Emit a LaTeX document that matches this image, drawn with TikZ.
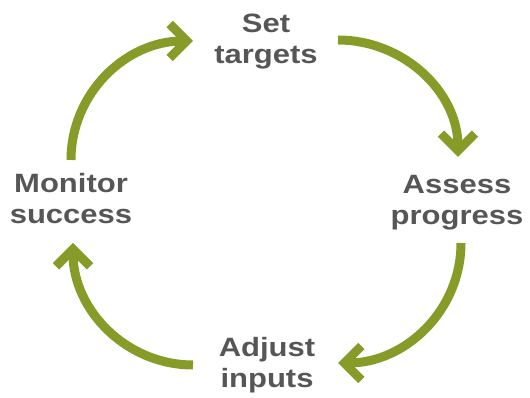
\documentclass[tikz,border=0pt]{standalone}
\usepackage{fontspec}
\setmainfont{Liberation Sans}[FakeStretch=1.17]
\usetikzlibrary{arrows.meta}
\definecolor{cycgreen}{HTML}{879C28}
\definecolor{labelgray}{HTML}{565656}
\begin{document}
\begin{tikzpicture}[x=1pt,y=1pt,
  lbl/.style={align=center, inner sep=0pt, text=labelgray,
    font=\fontsize{26.5}{31}\selectfont\bfseries},
  cyc/.style={draw=cycgreen, line width=9pt,
    -{Straight Barb[length=17pt,width=34pt]}}]
\useasboundingbox (0,0) rectangle (530,398);
\node[lbl] (set) at (266,356.4) {Set\\targets};
\node[lbl] (assess) at (457,195) {Assess\\progress};
\node[lbl] (adjust) at (267,32.4) {Adjust\\inputs};
\node[lbl] (monitor) at (71,199.2) {Monitor\\success};
\coordinate (s1) at (338,358); \coordinate (e1) at (458,241);
\coordinate (s2) at (71,238);  \coordinate (e2) at (193,357);
\coordinate (s3) at (461,155); \coordinate (e3) at (338,35);
\coordinate (s4) at (193,33);  \coordinate (e4) at (73,155);
\draw[cyc] (s1) to[out=0,in=90] (e1);
\draw[cyc] (s2) to[out=90,in=180] (e2);
\draw[cyc] (s3) to[out=270,in=0] (e3);
\draw[cyc] (s4) to[out=180,in=270] (e4);
\end{tikzpicture}
\end{document}
